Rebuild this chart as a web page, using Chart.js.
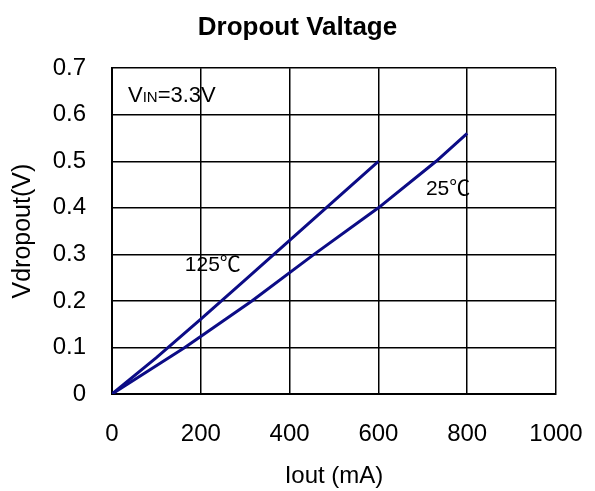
<!DOCTYPE html>
<html>
<head>
<meta charset="utf-8">
<script src="https://cdn.jsdelivr.net/npm/chart.js"></script>
<style>
  html, body { margin: 0; padding: 0; background: #fff; }
  #wrap { width: 595px; height: 491px; }
</style>
</head>
<body>
<div id="wrap"><canvas id="dropoutChart" width="595" height="491"></canvas></div>
<script>
// data
const iout125 = [0, 100, 200, 300, 400, 500, 600];
const vdrop125 = [0, 0.078, 0.161, 0.245, 0.33, 0.415, 0.5];
const iout25 = [0, 164, 315, 455, 600, 730, 800];
const vdrop25 = [0, 0.1, 0.2, 0.3, 0.4, 0.5, 0.56];

const xTickLabels = ["0", "200", "400", "600", "800", "1000"];
const yTickLabels = ["0", "0.1", "0.2", "0.3", "0.4", "0.5", "0.6", "0.7"];

const lineColor = "#0c0c86";
const fontFam = "'Liberation Sans', Arial, sans-serif";

function toPoints(xs, ys) {
  return xs.map((x, i) => ({ x: x, y: ys[i] }));
}

// curve labels, placed in data units
const notes = [
  { text: "125\u2103", x: 227, y: 0.276 },
  { text: "25\u2103", x: 757, y: 0.44 }
];

const notesPlugin = {
  id: "notes",
  afterDatasetsDraw(chart) {
    const ctx = chart.ctx;
    const xs = chart.scales.x;
    const ys = chart.scales.y;
    ctx.save();
    ctx.fillStyle = "#000";
    ctx.textBaseline = "middle";
    ctx.textAlign = "center";
    ctx.font = "21px 'Liberation Sans', 'Noto Sans CJK SC', sans-serif";
    notes.forEach(n => {
      ctx.fillText(n.text, xs.getPixelForValue(n.x), ys.getPixelForValue(n.y));
    });

    // VIN=3.3V with small caps for IN
    let px = xs.getPixelForValue(36);
    const py = ys.getPixelForValue(0.627);
    ctx.textAlign = "left";
    ctx.textBaseline = "alphabetic";
    ctx.font = "22px " + fontFam;
    ctx.fillText("V", px, py);
    px += ctx.measureText("V").width;
    ctx.font = "15px " + fontFam;
    ctx.fillText("IN", px, py);
    px += ctx.measureText("IN").width;
    ctx.font = "22px " + fontFam;
    ctx.fillText("=3.3V", px, py);
    ctx.restore();
  }
};

new Chart(document.getElementById("dropoutChart"), {
  type: "line",
  data: {
    datasets: [
      {
        label: "125C",
        data: toPoints(iout125, vdrop125),
        borderColor: lineColor,
        borderWidth: 3,
        pointRadius: 0,
        tension: 0
      },
      {
        label: "25C",
        data: toPoints(iout25, vdrop25),
        borderColor: lineColor,
        borderWidth: 3,
        pointRadius: 0,
        tension: 0
      }
    ]
  },
  options: {
    responsive: false,
    animation: false,
    layout: { padding: 0 },
    plugins: {
      legend: { display: false },
      tooltip: { enabled: false },
      title: {
        display: true,
        text: "Dropout Valtage",
        color: "#000",
        font: { family: fontFam, size: 26, weight: "bold" },
        padding: { top: 12, bottom: 25 }
      }
    },
    scales: {
      x: {
        type: "linear",
        min: 0,
        max: 1000,
        afterFit(scale) {
          scale.height = 97;
          scale.paddingLeft = 0;
          scale.paddingRight = 39;
        },
        afterBuildTicks(scale) {
          scale.ticks = xTickLabels.map(t => ({ value: Number(t) }));
        },
        ticks: {
          color: "#000",
          padding: 26,
          font: { family: fontFam, size: 24 },
          callback: (v, i) => xTickLabels[i]
        },
        grid: { color: "#000", lineWidth: 1.5, drawTicks: false },
        border: { color: "#000", width: 2 },
        title: {
          display: true,
          text: "Iout (mA)",
          color: "#000",
          font: { family: fontFam, size: 24 },
          padding: { top: 2, bottom: 0 }
        }
      },
      y: {
        min: 0,
        max: 0.7,
        afterFit(scale) { scale.width = 112; },
        afterBuildTicks(scale) {
          scale.ticks = yTickLabels.map(t => ({ value: Number(t) }));
        },
        ticks: {
          color: "#000",
          padding: 26,
          font: { family: fontFam, size: 24 },
          callback: (v, i) => yTickLabels[i]
        },
        grid: { color: "#000", lineWidth: 1.5, drawTicks: false },
        border: { color: "#000", width: 2 },
        title: {
          display: true,
          text: "Vdropout(V)",
          color: "#000",
          font: { family: fontFam, size: 25 },
          padding: { top: 8, bottom: 0 }
        }
      }
    }
  },
  plugins: [notesPlugin]
});
</script>
</body>
</html>
